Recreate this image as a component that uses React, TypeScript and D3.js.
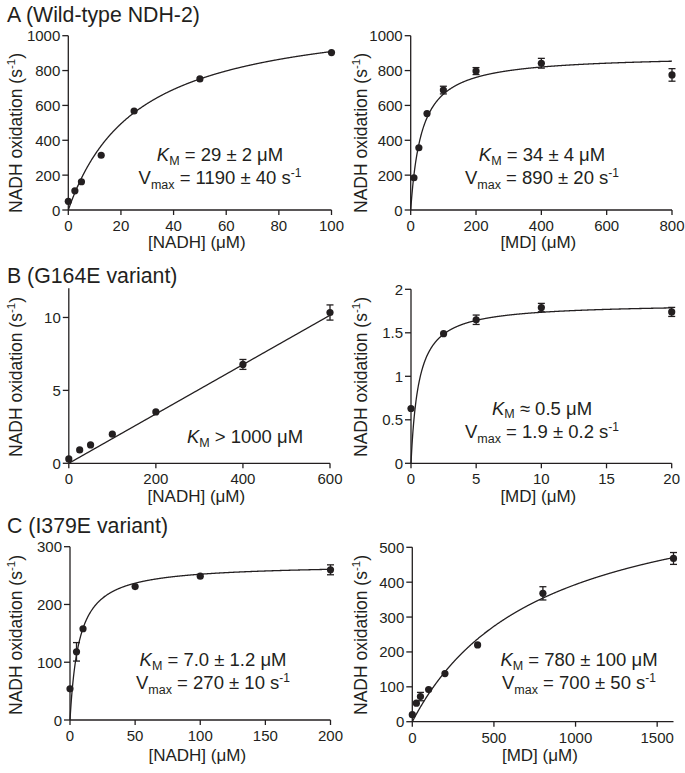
import React from "react";
import * as d3 from "d3";

// ---------- data ----------
const panelTitles = ["A (Wild-type NDH-2)", "B (G164E variant)", "C (I379E variant)"];

// A: wild type
const aNadhX = [0, 2.5, 5, 12.5, 25, 50, 100];
const aNadhY = [50, 110, 162, 314, 568, 752, 903];
const aNadhErr = [0, 0, 0, 0, 0, 0, 0];
const aMdX = [10, 25, 50, 100, 200, 400, 800];
const aMdY = [185, 357, 553, 688, 797, 842, 775];
const aMdErr = [0, 0, 0, 22, 20, 28, 36];

// B: G164E
const bNadhX = [0, 25, 50, 100, 200, 400, 600];
const bNadhY = [0.3, 0.92, 1.26, 2.0, 3.52, 6.78, 10.34];
const bNadhErr = [0, 0, 0, 0, 0, 0.34, 0.52];
const bMdX = [0, 2.5, 5, 10, 20];
const bMdY = [0.63, 1.49, 1.65, 1.79, 1.74];
const bMdErr = [0, 0, 0.054, 0.048, 0.052];

// C: I379E
const cNadhX = [0, 5, 10, 50, 100, 200];
const cNadhY = [54, 118, 158, 231, 249, 260];
const cNadhErr = [0, 16, 0, 0, 0, 8.6];
const cMdX = [0, 25, 50, 100, 200, 400, 800, 1600];
const cMdY = [20, 53, 72, 92, 138, 220, 368, 468];
const cMdErr = [0, 0, 12, 0, 0, 0, 19, 17];

// fitted curve parameters (Michaelis-Menten: Vmax, KM; linear: slope)
const fitVmax = [1150, 890, 0, 1.84, 270, 700];
const fitKm = [26.5, 34, 0, 0.6, 7.0, 780];
const bNadhSlope = 0.01692;

// axis domains and ticks
const xDomains = [[0, 100], [0, 800], [0, 600], [0, 20], [0, 200], [0, 1600]];
const yDomains = [[0, 1000], [0, 1000], [0, 12], [0, 2], [0, 300], [0, 500]];
const xTickVals = [
  [0, 20, 40, 60, 80, 100],
  [0, 200, 400, 600, 800],
  [0, 200, 400, 600],
  [0, 5, 10, 15, 20],
  [0, 50, 100, 150, 200],
  [0, 500, 1000, 1500],
];
const yTickVals = [
  [0, 200, 400, 600, 800, 1000],
  [0, 200, 400, 600, 800, 1000],
  [0, 5, 10],
  [0, 0.5, 1, 1.5, 2],
  [0, 100, 200, 300],
  [0, 100, 200, 300, 400, 500],
];
const xTitles = ["[NADH] (μM)", "[MD] (μM)", "[NADH] (μM)", "[MD] (μM)", "[NADH] (μM)", "[MD] (μM)"];

// annotation text: [KM relation, KM value, Vmax value or null]
const kmRel = ["=", "=", ">", "≈", "=", "="];
const kmText = ["29 ± 2 μM", "34 ± 4 μM", "1000 μM", "0.5 μM", "7.0 ± 1.2 μM", "780 ± 100 μM"];
const vmaxText = ["1190 ± 40 s", "890 ± 20 s", null, "1.9 ± 0.2 s", "270 ± 10 s", "700 ± 50 s"];

// ---------- layout ----------
const frames = [
  { x0: 68.3, x1: 331.5, yb: 210, yt: 35.7, ann: [220, 161.2, 184], yTitleX: 21.7, yTitleY: 133, xTitleY: 248 },
  { x0: 410.7, x1: 672, yb: 210, yt: 35.7, ann: [542, 161.2, 184], yTitleX: 366.5, yTitleY: 133, xTitleY: 248 },
  { x0: 68.8, x1: 330, yb: 463.3, yt: 288.3, ann: [245, 443.3, 0], yTitleX: 21.7, yTitleY: 377, xTitleY: 502 },
  { x0: 411, x1: 671.7, yb: 463.3, yt: 289.3, ann: [542, 414.5, 437.5], yTitleX: 366.5, yTitleY: 377, xTitleY: 502 },
  { x0: 70, x1: 330.5, yb: 720, yt: 546.7, ann: [213, 666.2, 689], yTitleX: 21.7, yTitleY: 635, xTitleY: 761 },
  { x0: 412.3, x1: 673.5, yb: 721.7, yt: 547.3, ann: [579, 666.2, 689], yTitleX: 366.5, yTitleY: 635, xTitleY: 761 },
];
const titleY = [21.7, 283.3, 533.3];

const seriesX = [aNadhX, aMdX, bNadhX, bMdX, cNadhX, cMdX];
const seriesY = [aNadhY, aMdY, bNadhY, bMdY, cNadhY, cMdY];
const seriesErr = [aNadhErr, aMdErr, bNadhErr, bMdErr, cNadhErr, cMdErr];

const FONT = "'Liberation Sans', Arial, Helvetica, sans-serif";
const INK = "#231f20";

function fmt(v: number) {
  return String(v);
}

function Panel({ i }: { i: number }) {
  const f = frames[i];
  const x = d3.scaleLinear().domain(xDomains[i]).range([f.x0, f.x1]);
  const y = d3.scaleLinear().domain(yDomains[i]).range([f.yb, f.yt]);
  const xs = seriesX[i];
  const ys = seriesY[i];
  const es = seriesErr[i];

  const xMax = xDomains[i][1];
  const samples = d3.range(0, 801).map((k) => (xMax * k) / 800);
  const fitFn = (s: number) =>
    i === 2 ? bNadhSlope * s : (fitVmax[i] * s) / (fitKm[i] + s);
  const line = d3
    .line<number>()
    .x((s) => x(s))
    .y((s) => y(fitFn(s)))(samples) as string;

  const cx = (f.x0 + f.x1) / 2;
  return (
    <g>
      {/* axes */}
      <line x1={f.x0} x2={f.x0} y1={f.yb} y2={f.yt} stroke={INK} strokeWidth={1.3} />
      <line x1={f.x0} x2={f.x1} y1={f.yb} y2={f.yb} stroke={INK} strokeWidth={1.3} />
      {yTickVals[i].map((t) => (
        <g key={"y" + t}>
          <line x1={f.x0 - 6} x2={f.x0} y1={y(t)} y2={y(t)} stroke={INK} strokeWidth={1.3} />
          <text x={f.x0 - 8} y={y(t) + 5.5} textAnchor="end" fontSize={15} fill={INK}>
            {fmt(t)}
          </text>
        </g>
      ))}
      {xTickVals[i].map((t) => (
        <g key={"x" + t}>
          <line x1={x(t)} x2={x(t)} y1={f.yb} y2={f.yb + 5} stroke={INK} strokeWidth={1.3} />
          <text x={x(t)} y={f.yb + 21} textAnchor="middle" fontSize={15} fill={INK}>
            {fmt(t)}
          </text>
        </g>
      ))}
      {/* titles */}
      <text x={cx - 3} y={f.xTitleY} textAnchor="middle" fontSize={17} fill={INK}>
        {xTitles[i]}
      </text>
      <text
        transform={`translate(${f.yTitleX},${f.yTitleY}) rotate(-90)`}
        textAnchor="middle"
        fontSize={17.5}
        fill={INK}
      >
        NADH oxidation (s<tspan dy={-7} fontSize={11.5}>-1</tspan>
        <tspan dy={7}>)</tspan>
      </text>
      {/* fit */}
      <path d={line} fill="none" stroke={INK} strokeWidth={1.3} />
      {/* error bars */}
      {xs.map((xv, k) =>
        es[k] > 0 ? (
          <g key={"e" + k} stroke={INK} strokeWidth={1.3}>
            <line x1={x(xv)} x2={x(xv)} y1={y(ys[k] - es[k])} y2={y(ys[k] + es[k])} />
            <line x1={x(xv) - 3.5} x2={x(xv) + 3.5} y1={y(ys[k] - es[k])} y2={y(ys[k] - es[k])} />
            <line x1={x(xv) - 3.5} x2={x(xv) + 3.5} y1={y(ys[k] + es[k])} y2={y(ys[k] + es[k])} />
          </g>
        ) : null
      )}
      {xs.map((xv, k) => (
        <circle key={"p" + k} cx={x(xv)} cy={y(ys[k])} r={3.6} fill={INK} />
      ))}
      {/* annotation */}
      <text x={f.ann[0]} y={f.ann[1]} textAnchor="middle" fontSize={18.5} fill={INK}>
        <tspan fontStyle="italic">K</tspan>
        <tspan dy={3.5} fontSize={12.5}>M</tspan>
        <tspan dy={-3.5}>{" " + kmRel[i] + " " + kmText[i]}</tspan>
      </text>
      {vmaxText[i] !== null && (
        <text x={f.ann[0]} y={f.ann[2]} textAnchor="middle" fontSize={18.5} fill={INK}>
          V<tspan dy={5} fontSize={12.5}>max</tspan>
          <tspan dy={-5}>{" = " + vmaxText[i]}</tspan>
          <tspan dy={-7} fontSize={12}>-1</tspan>
        </text>
      )}
    </g>
  );
}

export default function App() {
  return (
    <svg
      width={685}
      height={773}
      style={{ position: "absolute", left: 0, top: 0, background: "#fff" }}
      fontFamily={FONT}
    >
      <rect width={685} height={773} fill="#fff" />
      {panelTitles.map((t, k) => (
        <text key={t} x={7} y={titleY[k]} fontSize={21.3} fill={INK}>
          {t}
        </text>
      ))}
      {frames.map((_, i) => (
        <Panel key={i} i={i} />
      ))}
    </svg>
  );
}
